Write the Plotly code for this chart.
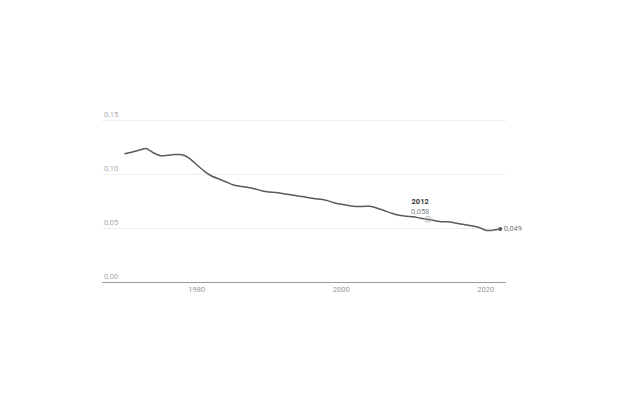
import plotly.graph_objects as go

years = list(range(1970, 2023))
values = [0.1188, 0.1202, 0.1220, 0.1237, 0.1197, 0.1170, 0.1174, 0.1180, 0.1179, 0.1146,
          0.1086, 0.1030, 0.0984, 0.0956, 0.0929, 0.0901, 0.0887, 0.0878, 0.0864, 0.0845,
          0.0834, 0.0830, 0.0818, 0.0808, 0.0796, 0.0787, 0.0776, 0.0767, 0.0756, 0.0734,
          0.0720, 0.0709, 0.0700, 0.0700, 0.0702, 0.0683, 0.0660, 0.0637, 0.0619, 0.0609,
          0.0605, 0.0590, 0.0580, 0.0568, 0.0558, 0.0556, 0.0544, 0.0532, 0.0521, 0.0507,
          0.0480, 0.0480, 0.0490]
y_ticks = [0.0, 0.05, 0.10, 0.15]
y_labels = ["0,00", "0,05", "0,10", "0,15"]
x_ticks = [1980, 2000, 2020]
hl_year, hl_value = 2012, 0.058
end_year, end_value = 2022, 0.049

LINE = "#5a5a5a"
FONT = "Roboto"

fig = go.Figure()
fig.add_trace(go.Scatter(x=years, y=values, mode="lines",
                         line=dict(color=LINE, width=1.5, shape="spline", smoothing=0.6),
                         hoverinfo="skip", showlegend=False))
fig.add_trace(go.Scatter(x=[hl_year], y=[hl_value], mode="markers",
                         marker=dict(size=6, color="rgba(255,255,255,0)",
                                     line=dict(color="#bbbbbb", width=1)),
                         showlegend=False, hoverinfo="skip", cliponaxis=False))
fig.add_trace(go.Scatter(x=[end_year], y=[end_value], mode="markers+text",
                         marker=dict(size=4, color=LINE),
                         text=["0,049"], textposition="middle right",
                         textfont=dict(family=FONT, size=7.5, color="#777777"),
                         showlegend=False, hoverinfo="skip", cliponaxis=False))

fig.add_annotation(x=hl_year, y=hl_value, xref="x", yref="y",
                   text="<b>2012</b><br><span style='color:#888888'>0,058</span>",
                   showarrow=True, arrowhead=0, standoff=3,
                   arrowwidth=0.8, arrowcolor="#bbbbbb", ax=0, ay=-2,
                   xanchor="right", yanchor="bottom", align="center", borderpad=0,
                   xshift=2,
                   font=dict(family=FONT, size=7.5, color="#333333"))

for v, lab in zip(y_ticks, y_labels):
    fig.add_annotation(x=0, xref="paper", y=v, yref="y", text=lab, showarrow=False,
                       xanchor="left", yanchor="bottom", xshift=0, yshift=-1,
                       font=dict(family=FONT, size=7.5, color="#aaaaaa"))

fig.update_layout(
    width=624, height=416,
    margin=dict(l=94, r=126, t=111, b=142),
    paper_bgcolor="white", plot_bgcolor="white",
    separators=",.",
    font=dict(family=FONT, size=7.5, color="#999999"),
    xaxis=dict(range=[1966.9, 2022.8], tickvals=x_ticks, showgrid=False,
               showline=True, linecolor="#999999", linewidth=1, ticks="",
               tickfont=dict(family=FONT, size=7.5, color="#999999"), zeroline=False),
    yaxis=dict(range=[0, 0.151], tickvals=y_ticks, showticklabels=False,
               showgrid=True, gridcolor="#eeeeee", gridwidth=1, zeroline=False,
               ticks=""),
)

fig.write_html("out.html")
